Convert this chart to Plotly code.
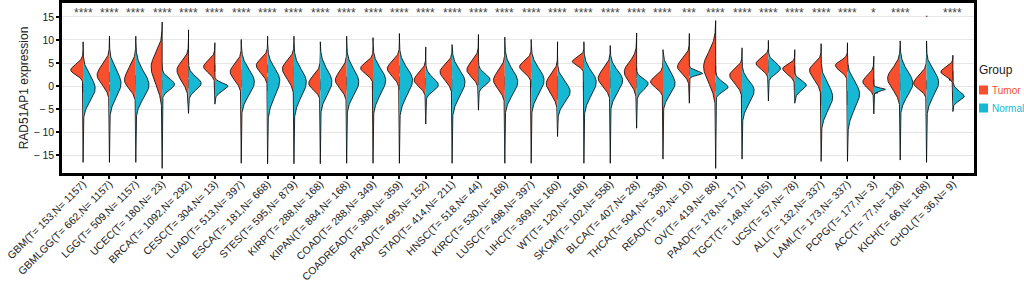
import numpy as np
import plotly.graph_objects as go

categories = ["GBM(T= 153,N= 1157)", "GBMLGG(T= 662,N= 1157)", "LGG(T= 509,N= 1157)",
              "UCEC(T= 180,N= 23)", "BRCA(T= 1092,N= 292)", "CESC(T= 304,N= 13)",
              "LUAD(T= 513,N= 397)", "ESCA(T= 181,N= 668)", "STES(T= 595,N= 879)",
              "KIRP(T= 288,N= 168)", "KIPAN(T= 884,N= 168)", "COAD(T= 288,N= 349)",
              "COADREAD(T= 380,N= 359)", "PRAD(T= 495,N= 152)", "STAD(T= 414,N= 211)",
              "HNSC(T= 518,N= 44)", "KIRC(T= 530,N= 168)", "LUSC(T= 498,N= 397)",
              "LIHC(T= 369,N= 160)", "WT(T= 120,N= 168)", "SKCM(T= 102,N= 558)",
              "BLCA(T= 407,N= 28)", "THCA(T= 504,N= 338)", "READ(T= 92,N= 10)",
              "OV(T= 419,N= 88)", "PAAD(T= 178,N= 171)", "TGCT(T= 148,N= 165)",
              "UCS(T= 57,N= 78)", "ALL(T= 132,N= 337)", "LAML(T= 173,N= 337)",
              "PCPG(T= 177,N= 3)", "ACC(T= 77,N= 128)", "KICH(T= 66,N= 168)",
              "CHOL(T= 36,N= 9)"]

signif = ["****"] * 23 + ["***"] + ["****"] * 6 + ["*", "****", ".", "****"]

groups = ["Tumor", "Normal"]

# overall range of each violin (thin tails)
line_hi = [9.6, 10.8, 10.8, 13.9, 12.2, 9.4, 10.1, 10.8, 10.8, 9.6, 10.8, 10.5, 11.4, 8.5, 9.0,
           11.2, 10.6, 10.1, 9.6, 9.6, 8.8, 11.5, 7.9, 11.4, 14.2, 8.3, 9.9, 7.9, 9.2, 9.4,
           6.5, 9.8, 9.8, 6.7]
line_lo = [-16.5, -16.5, -16.5, -17.8, -5.9, -3.9, -16.7, -16.8, -16.8, -16.8, -16.7, -16.7,
           -16.7, -8.2, -16.7, -5.2, -16.7, -16.7, -10.9, -16.7, -16.7, -9.1, -15.8, -3.7,
           -17.8, -15.8, -3.2, -3.7, -16.3, -16.3, -6.0, -16.0, -16.5, -5.5]

# tumor half: density peak, visible top / bottom, peak half-width
t_mode = [3.45, 2.4, 1.3, 4.2, 3.5, 4.2, 3.1, 4.5, 3.8, 0.6, 1.3, 3.9, 3.8, 1.3, 3.1, 3.5, 1.3,
          4.2, 0.6, 5.3, 1.7, 3.1, 0.9, 4.2, 4.2, 2.4, 4.9, 3.8, 3.5, 4.5, 0.9, 1.7, 0.6, 3.1]
t_top = [6.7, 7.8, 7.8, 11.4, 8.1, 7.6, 7.4, 8.1, 8.1, 4.9, 6.3, 7.0, 7.8, 5.3, 7.0, 8.1, 6.3,
         7.4, 5.3, 7.6, 6.7, 8.5, 4.2, 8.5, 12.1, 5.8, 7.8, 6.0, 7.0, 7.0, 4.5, 7.4, 4.9, 5.6]
t_bot = [0.9, -3.0, -3.4, -5.2, -2.7, 0.9, -1.6, 0.2, -1.9, -3.0, -3.4, 0.7, -0.5, -2.3, -1.6,
         -0.5, -3.7, 0.9, -5.2, 3.0, -3.0, -2.7, -2.3, 0.2, -4.5, -2.3, 1.7, 0.6, -1.9, 1.3,
         -2.3, -4.5, -2.7, 0.6]
t_width = [0.47, 0.47, 0.43, 0.42, 0.44, 0.43, 0.42, 0.43, 0.44, 0.44, 0.43, 0.47, 0.46, 0.44,
           0.46, 0.44, 0.43, 0.44, 0.43, 0.44, 0.46, 0.47, 0.47, 0.45, 0.46, 0.47, 0.47, 0.46,
           0.44, 0.46, 0.42, 0.48, 0.49, 0.46]

# normal half
n_mode = [-0.5, 0.6, 0.2, 0.4, 0.6, 0.0, 0.9, 1.3, 0.9, 0.9, 0.9, 1.3, 1.3, 0.2, 0.9, 1.4, 0.9,
          1.3, -1.2, 0.9, 1.3, 0.6, 0.6, 2.7, -0.3, -0.9, 3.8, 0.2, -2.3, -1.6, -0.7, 0.6, 0.9,
          -2.3]
n_top = [6.3, 7.8, 7.8, 3.5, 4.2, 1.7, 7.8, 7.8, 7.8, 7.8, 7.8, 7.8, 7.9, 4.2, 7.4, 4.5, 7.8,
         7.8, 4.2, 7.0, 6.7, 3.1, 7.0, 4.2, 2.7, 4.2, 7.0, 2.7, 4.5, 4.9, 0.0, 7.4, 7.0, 0.6]
n_bot = [-7.3, -7.0, -7.0, -2.7, -3.0, -2.7, -6.3, -7.7, -7.3, -6.3, -6.3, -6.6, -7.0, -3.0,
         -7.0, -1.6, -6.3, -6.3, -7.0, -6.6, -5.5, -3.0, -5.5, 1.7, -2.7, -8.1, 0.9, -2.7,
         -9.9, -10.2, -1.7, -6.3, -6.6, -4.5]
n_width = [0.46, 0.44, 0.50, 0.47, 0.48, 0.50, 0.50, 0.46, 0.47, 0.44, 0.46, 0.48, 0.50, 0.48,
           0.49, 0.44, 0.49, 0.49, 0.48, 0.47, 0.47, 0.44, 0.46, 0.50, 0.47, 0.46, 0.46, 0.44,
           0.44, 0.46, 0.44, 0.48, 0.46, 0.43]

# box statistics
t_q1 = [2.5, 1.0, 0.6, 1.9, 2.0, 3.3, 1.7, 3.1, 2.4, -0.5, 0.2, 2.9, 2.9, 0.2, 2.4, 2.2, 0.4,
        3.1, -0.5, 4.3, 0.9, 1.9, 0.0, 3.1, 2.6, 0.9, 3.5, 2.7, 1.7, 3.3, -0.1, 0.2, -0.5, 1.4]
t_med = [3.0, 2.0, 1.4, 2.9, 3.0, 3.9, 2.6, 3.8, 3.4, 0.5, 1.1, 3.6, 3.6, 0.9, 3.3, 3.2, 1.1,
         4.0, 0.8, 5.0, 2.1, 2.9, 0.8, 3.6, 3.4, 1.8, 4.6, 3.4, 3.1, 3.9, 0.5, 1.7, 0.4, 2.2]
t_q3 = [3.6, 2.9, 2.2, 3.8, 4.0, 4.5, 3.5, 4.5, 4.2, 1.3, 1.9, 4.3, 4.3, 1.6, 4.2, 4.2, 1.9,
        4.9, 2.0, 5.8, 3.1, 3.8, 1.4, 4.2, 4.2, 2.6, 5.6, 4.2, 4.2, 4.5, 1.3, 2.7, 1.1, 3.1]
n_q1 = [-1.2, -1.0, -1.0, -0.5, -0.3, -0.7, -0.1, -0.9, -1.0, -0.7, -0.7, -0.7, -0.7, -0.5,
        -1.0, 0.4, -0.7, -0.1, -2.7, -0.7, -0.3, -0.3, -0.5, 2.4, -0.9, -2.3, 3.1, -0.7, -3.9,
        -3.9, -1.4, -0.7, -0.5, -2.9]
n_med = [-0.5, -0.4, -0.4, 0.2, 0.5, -0.1, 0.6, 0.5, 0.3, 0.1, 0.1, 0.5, 0.5, 0.2, 0.3, 1.2,
         0.1, 0.6, -1.6, 0.0, 0.5, 0.5, 0.2, 2.9, -0.2, -1.6, 3.6, 0.0, -2.8, -2.5, -0.9, 0.0,
         0.1, -2.1]
n_q3 = [0.3, 0.2, 0.4, 1.1, 1.3, 0.6, 1.3, 1.8, 1.7, 0.9, 0.9, 1.7, 1.9, 1.1, 1.4, 2.2, 0.9,
        1.4, -0.5, 0.7, 1.7, 1.4, 0.9, 3.5, 0.6, -0.9, 4.3, 0.7, -1.4, -1.2, -0.4, 0.6, 0.9,
        -1.4]

RED = "#F8502E"
CYAN = "#17B8D3"

fig = go.Figure()


def half_violin(i, mode, top, bot, w, side, color):
    ys = np.linspace(line_lo[i], line_hi[i], 300)
    s_hi = max((top - mode) / 2.6, 0.12)
    s_lo = max((mode - bot) / 2.6, 0.12)
    s = np.where(ys >= mode, s_hi, s_lo)
    wd = w * np.exp(-0.5 * ((ys - mode) / s) ** 2)
    xs = np.concatenate([[i], i + side * wd, [i]])
    yy = np.concatenate([[ys[0]], ys, [ys[-1]]])
    fig.add_trace(go.Scatter(x=xs, y=yy, mode="lines", fill="toself", fillcolor=color,
                             line=dict(color="black", width=0.8), showlegend=False,
                             hoverinfo="skip"))


for i in range(len(categories)):
    half_violin(i, t_mode[i], t_top[i], t_bot[i], t_width[i], -1, RED)
    half_violin(i, n_mode[i], n_top[i], n_bot[i], n_width[i], 1, CYAN)

idx = np.arange(len(categories))
for pos, q1, med, q3 in [(idx - 0.065, t_q1, t_med, t_q3), (idx + 0.065, n_q1, n_med, n_q3)]:
    fig.add_trace(go.Box(x=list(pos), q1=q1, median=med, q3=q3, lowerfence=q1, upperfence=q3,
                         width=0.1, fillcolor="white", line=dict(color="black", width=1.6),
                         showlegend=False, boxpoints=False, hoverinfo="skip"))

for i, s in enumerate(signif):
    fig.add_annotation(x=i, y=15.9, text=s, showarrow=False, xref="x", yref="y",
                       font=dict(size=12, color="#444444"))

# manual legend (paper coordinates: plot spans 62..974 px horizontally, 3..173 px vertically)
def px_x(p):
    return (p - 62) / 912.0


def px_y(p):
    return (173 - p) / 170.0


fig.add_annotation(x=px_x(977), y=px_y(70), xref="paper", yref="paper", text="Group",
                   showarrow=False, xanchor="left", yanchor="middle",
                   font=dict(size=12, color="#222222"))
for k, (g, col) in enumerate(zip(groups, [RED, CYAN])):
    yc = 90 + 18 * k
    fig.add_shape(type="rect", xref="paper", yref="paper",
                  x0=px_x(979), x1=px_x(988), y0=px_y(yc + 4.5), y1=px_y(yc - 4.5),
                  fillcolor=col, line=dict(width=0))
    fig.add_annotation(x=px_x(990), y=px_y(yc), xref="paper", yref="paper", text=g,
                       showarrow=False, xanchor="left", yanchor="middle",
                       font=dict(size=10, color=col))

ytv = [-15, -10, -5, 0, 5, 10, 15]
ytt = ["\u2212 15", "\u2212 10", "\u2212 5", "0", "5", "10", "15"]

fig.update_layout(
    width=1024, height=282,
    margin=dict(l=62, r=50, t=3, b=109, autoexpand=False),
    paper_bgcolor="white", plot_bgcolor="white",
    font=dict(family="Liberation Sans, Arial", color="#222222"),
    boxmode="overlay",
    showlegend=False,
    xaxis=dict(range=[-0.8, len(categories) - 0.2], tickmode="array", tickvals=list(idx),
               ticktext=categories, tickangle=-45, tickfont=dict(size=10.5, color="#222222"),
               ticklabelstandoff=-5,
               showgrid=False, zeroline=False, showline=True, linecolor="black", linewidth=2.5,
               mirror=True, ticks="outside", ticklen=3, tickwidth=2, tickcolor="black"),
    yaxis=dict(range=[-18.8, 18.0], tickmode="array", tickvals=ytv, ticktext=ytt,
               tickfont=dict(size=10.5, color="#222222"),
               showgrid=True, gridcolor="#E6E6E6", gridwidth=1, zeroline=False,
               showline=True, linecolor="black", linewidth=2.5, mirror=True,
               ticks="outside", ticklen=3, tickwidth=2, tickcolor="black",
               title=dict(text="RAD51AP1 expression", font=dict(size=12, color="#222222"),
                          standoff=3)),
)

fig.write_html("out.html", config={"displayModeBar": False},
               post_script="document.body.style.margin='0';document.body.style.overflow='hidden';")
